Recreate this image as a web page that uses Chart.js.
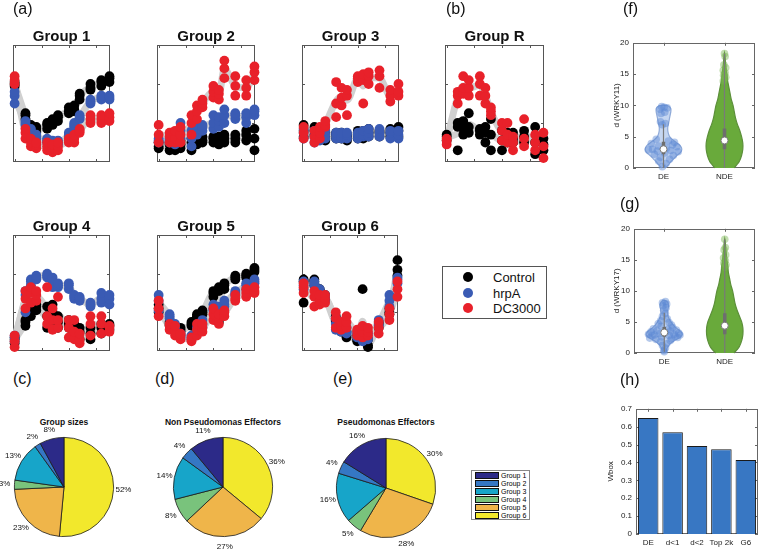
<!DOCTYPE html>
<html><head><meta charset="utf-8">
<script src="https://cdn.jsdelivr.net/npm/chart.js@4/dist/chart.umd.min.js"></script>
<style>
body{margin:0;background:#fff;font-family:'Liberation Sans',Arial,Helvetica,sans-serif;}
#root{position:relative;width:760px;height:549px;overflow:hidden;background:#fff;}
canvas{position:absolute;display:block;}
.lbl{position:absolute;font-size:16px;line-height:16px;color:#111;white-space:nowrap;}
.ttl{position:absolute;font-weight:bold;font-size:15px;line-height:15px;transform:translate(-50%,-50%);white-space:nowrap;color:#111;}
.ptl{position:absolute;font-weight:bold;font-size:8.5px;line-height:9px;transform:translate(-50%,-50%);white-space:nowrap;color:#111;}
.leg{position:absolute;border:1px solid #555;background:#fff;}
.leg .row{position:absolute;font-size:13px;line-height:13px;color:#111;white-space:nowrap;}
.leg .dot{position:absolute;width:10px;height:10px;border-radius:50%;}
.pleg{position:absolute;border:1px solid #888;background:#fff;}
.pleg .row{position:absolute;font-size:7px;line-height:7px;color:#000;white-space:nowrap;}
.pleg .sw{position:absolute;width:22px;height:5px;border:1px solid #111;}
</style></head>
<body><div id="root"></div>
<script>
// ---------------- DATA ----------------
const TIMES = [0,2,3,4,6,7,8,10,11,12,14,16,17.5];
const SERIES_NAMES = ['Control','hrpA','DC3000'];
const SERIES_COLORS = ['#000000','#3a5bb4','#e8212a'];

const G1_CTRL = [[1.95,2.0,2.05],[1.1,1.2,1.25],[0.8,0.9,0.95],[0.75,0.85,0.9],[0.85,0.95,1.0],[0.95,1.05,1.1],[1.05,1.15,1.2],[1.25,1.3,1.4],[1.3,1.35,1.45],[1.6,1.7,1.75],[1.85,1.9,2.0],[1.95,2.05,2.1],[2.05,2.15,2.2]];
const G1_HRPA = [[1.5,1.7,1.8],[0.95,1.0,1.05],[0.75,0.8,0.85],[0.6,0.65,0.7],[0.5,0.55,0.6],[0.45,0.5,0.55],[0.45,0.5,0.55],[0.65,0.7,0.75],[0.9,0.95,1.0],[1.1,1.15,1.2],[1.5,1.55,1.6],[1.6,1.65,1.7],[1.6,1.65,1.7]];
const G1_DC   = [[2.0,2.1,2.2],[0.6,0.75,0.85],[0.4,0.5,0.6],[0.35,0.45,0.5],[0.3,0.4,0.5],[0.25,0.35,0.45],[0.3,0.4,0.5],[0.5,0.55,0.6],[0.5,0.6,0.7],[0.75,0.8,0.85],[1.0,1.1,1.2],[1.0,1.1,1.2],[1.05,1.15,1.25]];

const G2_CTRL = [[0.35,0.4,0.5],[0.3,0.45,0.5],[0.3,0.4,0.5],[0.35,0.45,0.55],[0.3,0.5,0.6],[0.45,0.55,0.6],[0.5,0.55,0.65],[0.5,0.6,0.65],[0.45,0.55,0.65],[0.5,0.6,0.7],[0.5,0.6,0.7],[0.55,0.7,0.8],[0.3,0.6,0.85]];
const G2_HRPA = [[0.5,0.55,0.6],[0.5,0.55,0.6],[0.45,0.55,0.65],[0.6,0.8,1.0],[0.4,0.6,0.8],[0.7,0.85,0.95],[0.8,0.9,0.95],[0.85,1.0,1.2],[0.9,1.05,1.15],[1.0,1.2,1.35],[1.1,1.2,1.25],[1.0,1.15,1.25],[1.2,1.3,1.35]];
const G2_DC   = [[0.5,0.7,0.95],[0.5,0.65,0.75],[0.5,0.6,0.8],[0.5,0.7,0.9],[0.7,1.0,1.2],[1.1,1.3,1.45],[1.4,1.5,1.6],[1.65,1.8,1.95],[1.6,1.75,1.85],[2.15,2.4,2.6],[1.7,1.95,2.2],[1.7,1.9,2.1],[2.1,2.3,2.45]];

const G3_CTRL = [[0.65,0.8,0.95],[0.7,0.8,0.9],[0.6,0.75,0.85],[0.55,0.65,0.75],[0.6,0.7,0.75],[0.6,0.65,0.75],[0.55,0.65,0.7],[0.6,0.7,0.8],[0.6,0.7,0.8],[0.65,0.75,0.85],[0.65,0.75,0.8],[0.65,0.75,0.85],[0.65,0.8,0.9]];
const G3_HRPA = [[0.6,0.75,0.85],[0.5,0.65,0.8],[0.55,0.7,0.8],[0.6,0.7,0.8],[0.6,0.7,0.75],[0.6,0.65,0.75],[0.6,0.7,0.75],[0.6,0.7,0.75],[0.65,0.7,0.8],[0.65,0.75,0.85],[0.65,0.75,0.85],[0.6,0.75,0.8],[0.6,0.7,0.8]];
const G3_DC   = [[0.6,0.75,0.9],[0.5,0.65,0.8],[0.6,0.75,0.9],[0.9,0.95,1.05],[1.15,1.5,2.05],[1.45,1.65,1.9],[1.2,1.7,1.85],[2.05,2.15,2.2],[1.5,2.1,2.25],[2.0,2.2,2.3],[1.9,2.2,2.35],[1.55,1.7,1.85],[1.7,1.8,2.0]];

const GR_CTRL = [[0.55,0.65,0.7],[0.3,0.9,1.0],[0.7,0.85,1.05],[0.75,0.9,1.25],[0.7,0.8,0.85],[0.5,0.75,0.9],[0.3,0.7,1.1],[0.3,0.55,0.8],[0.5,0.65,0.75],[0.5,0.6,0.75],[0.5,0.65,0.8],[0.2,0.5,0.9],[0.3,0.45,0.6]];
const GR_DC   = [[0.45,0.55,0.6],[1.5,1.7,1.8],[1.75,1.9,2.2],[1.7,1.9,2.1],[1.7,2.0,2.2],[1.5,1.7,1.9],[1.2,1.3,1.4],[0.55,0.8,1.0],[0.5,0.7,1.0],[0.3,0.5,0.65],[0.4,0.6,1.1],[0.3,0.5,0.7],[0.1,0.4,0.75]];

const G4_CTRL = [[0.2,0.3,0.35],[0.65,0.75,0.8],[0.9,1.0,1.1],[1.05,1.15,1.2],[0.6,0.9,1.15],[0.8,1.0,1.2],[0.6,0.75,0.9],[0.6,0.7,0.8],[0.55,0.65,0.7],[0.3,0.5,0.6],[0.3,0.45,0.6],[0.45,0.6,0.7],[0.55,0.65,0.7]];
const G4_HRPA = [[0.25,0.35,0.4],[1.0,1.45,1.55],[1.7,1.8,1.85],[1.85,1.9,1.95],[1.9,1.95,2.0],[1.65,1.8,1.9],[1.65,1.7,1.75],[1.6,1.7,1.75],[1.35,1.4,1.45],[1.3,1.35,1.4],[1.15,1.2,1.25],[1.25,1.35,1.5],[1.2,1.35,1.45]];
const G4_DC   = [[0.1,0.25,0.4],[1.1,1.35,1.55],[1.25,1.5,1.65],[1.3,1.45,1.55],[0.7,0.9,1.65],[0.55,0.8,1.1],[0.6,0.8,1.4],[0.35,0.6,0.8],[0.3,0.5,0.8],[0.2,0.3,0.45],[0.4,0.7,0.9],[0.45,0.7,0.9],[0.5,0.6,0.65]];

const G5_CTRL = [[1.0,1.1,1.2],[0.65,0.7,0.75],[0.55,0.6,0.65],[0.5,0.55,0.6],[0.65,0.7,0.75],[0.85,0.9,0.95],[0.95,1.0,1.05],[1.4,1.5,1.55],[0.75,1.55,1.65],[1.6,1.7,1.75],[1.85,1.9,1.95],[1.9,1.95,2.0],[2.05,2.1,2.15]];
const G5_HRPA = [[1.05,1.3,1.45],[0.85,0.9,0.95],[0.5,0.6,0.7],[0.35,0.4,0.45],[0.3,0.35,0.4],[0.45,0.5,0.6],[0.6,0.7,0.8],[1.05,1.1,1.2],[1.0,1.1,1.15],[1.15,1.2,1.3],[1.45,1.5,1.55],[1.6,1.7,1.75],[1.75,1.8,1.85]];
const G5_DC   = [[0.9,1.1,1.3],[0.55,0.65,0.7],[0.4,0.5,0.65],[0.3,0.4,0.45],[0.25,0.3,0.35],[0.4,0.55,0.7],[0.5,0.6,0.7],[0.8,0.95,1.1],[0.7,0.85,0.95],[0.9,1.0,1.05],[1.3,1.35,1.45],[1.4,1.5,1.6],[1.5,1.55,1.65]];

const G6_CTRL = [[1.25,1.8,1.85],[1.7,1.8,1.85],[1.5,1.55,1.6],[1.35,1.4,1.45],[0.75,0.8,0.9],[0.5,0.55,0.6],[0.35,0.4,0.5],[0.25,0.3,0.4],[0.3,0.4,1.6],[0.1,0.15,0.3],[0.6,0.7,0.75],[0.95,1.0,1.1],[1.95,2.1,2.35]];
const G6_HRPA = [[1.6,1.7,1.8],[1.7,1.75,1.8],[1.45,1.5,1.6],[1.3,1.4,1.45],[0.55,0.7,0.85],[0.5,0.6,0.7],[0.45,0.5,0.6],[0.35,0.45,0.5],[0.25,0.3,0.4],[0.3,0.35,0.45],[0.65,0.7,0.8],[1.15,1.3,1.45],[1.75,1.85,1.9]];
const G6_DC   = [[1.5,1.65,1.75],[1.15,1.4,1.55],[1.2,1.3,1.45],[1.25,1.35,1.45],[0.6,0.85,1.0],[0.55,0.65,0.75],[0.6,0.75,0.9],[0.4,0.5,0.55],[0.35,0.5,0.65],[0.4,0.5,0.6],[0.45,0.6,0.75],[0.8,0.95,1.1],[1.4,1.6,1.8]];

const GROUP_TITLES = ['Group 1','Group 2','Group 3','Group R','Group 4','Group 5','Group 6'];
const X_TICKS = [0,5,10,15];
const Y_TICKS = [1,2];

// pies
const PIE_GROUPS = ['Group 1','Group 2','Group 3','Group 4','Group 5','Group 6'];
const PIE_COLORS = ['#2c2a88','#3577c4','#17a5c9','#79c37c','#efb54a','#f2e82c'];
const PCT_SIZES = [8,2,13,3,23,52];
const PCT_NONPS = [11,4,14,8,27,36];
const PCT_PS    = [16,4,16,5,28,30];
const PIE_TITLES = ['Group sizes','Non Pseudomonas Effectors','Pseudomonas Effectors'];

// violins: [y, half-width]
const VIOLIN_CATS = ['DE','NDE'];
const F_DE_PROFILE  = [[0,0.03],[0.5,0.08],[1,0.12],[1.5,0.17],[2,0.22],[2.5,0.28],[3,0.3],[3.5,0.28],[4,0.22],[4.5,0.15],[5,0.1],[5.5,0.08],[6,0.07],[6.5,0.07],[7,0.08],[7.5,0.09],[8,0.1],[8.5,0.11],[9,0.12],[9.5,0.12],[9.9,0.08],[10.05,0]];
const F_NDE_PROFILE = [[0,0.16],[0.5,0.2],[1,0.24],[2,0.28],[3,0.3],[4,0.3],[5,0.28],[6,0.25],[7,0.21],[8,0.18],[9,0.16],[10,0.14],[11,0.11],[12,0.09],[13,0.07],[14,0.05],[15,0.04],[16,0.025],[17,0.015],[18,0.008],[18.4,0]];
const G_DE_PROFILE  = [[0,0.03],[0.5,0.04],[1,0.06],[1.5,0.1],[2,0.17],[2.5,0.26],[3,0.3],[3.5,0.27],[4,0.2],[4.5,0.15],[5,0.11],[5.5,0.08],[6,0.06],[6.5,0.055],[7,0.06],[7.5,0.07],[8,0.065],[8.4,0.03],[8.5,0]];
const G_NDE_PROFILE = [[0,0.15],[0.5,0.2],[1,0.24],[2,0.28],[3,0.3],[4,0.3],[5,0.28],[6,0.24],[7,0.2],[8,0.17],[9,0.15],[10,0.13],[11,0.1],[12,0.08],[13,0.06],[14,0.05],[15,0.035],[16,0.025],[17,0.015],[18,0.008],[18.4,0]];
const F_DE_PTS_Y  = [9.8,9.6,9.7,9.4,8.9,8.7,7.4,7.1,6.9,4.6,4.3,4.1,3.9,3.7,3.5,3.4,3.2,3.0,2.9,2.8,2.7,2.6,2.4,2.2,2.0,1.7,1.4,1.1,0.7,0.2];
const F_DE_PTS_DX = [-0.03,0.06,0.01,-0.06,0.02,-0.04,-0.05,0.03,-0.02,-0.12,0.08,0.18,-0.2,0.15,-0.08,0.22,0.05,-0.18,-0.25,0.12,-0.1,0.24,0.02,-0.15,0.16,-0.05,0.1,-0.08,0.04,-0.02];
const G_DE_PTS_Y  = [8.3,8.1,7.9,7.6,7.3,6.9,6.4,5.9,5.5,5.2,4.9,4.7,4.5,4.3,4.1,3.9,3.8,3.7,3.6,3.5,3.4,3.3,3.2,3.1,3.0,3.0,2.9,2.9,2.8,2.8,2.7,2.6,2.5,2.4,2.3,2.2,2.0,1.8,1.5,1.2,0.8,0.4,0.2];
const G_DE_PTS_DX = [0.02,-0.03,0.04,-0.02,0.03,-0.01,0.02,-0.03,0.05,-0.06,0.08,-0.1,0.12,-0.05,0.14,-0.18,0.06,0.2,-0.12,0.1,-0.22,0.02,0.24,-0.08,0.16,-0.26,0.26,-0.16,0.08,-0.2,0.18,-0.04,0.22,-0.24,0.12,-0.14,0.1,-0.06,0.04,-0.03,0.02,-0.01,0.0];
const F_NDE_PTS_Y  = [18.3,17.8,16.5,16.0,15.6,15.2,14.8,14.5,14.2,13.9];
const F_NDE_PTS_DX = [0,0.01,-0.01,0.02,-0.02,0.01,-0.015,0.02,0,-0.02];
const G_NDE_PTS_Y  = [18.3,17.0,16.6,15.8,15.3,14.9,14.5,14.2,13.8];
const G_NDE_PTS_DX = [0,0.01,-0.01,0.015,-0.02,0.01,-0.015,0.02,0];
// [whiskerLow, q1, median, q3, whiskerHigh]
const F_DE_STATS  = [0,2.2,3.0,4.2,7.0];
const F_NDE_STATS = [0,3.0,4.4,6.3,18.3];
const G_DE_STATS  = [0.2,2.6,3.3,4.2,6.5];
const G_NDE_STATS = [0,3.0,4.4,6.4,18.3];
const VIOLIN_TICKS = [0,5,10,15,20];

// bars
const BAR_LABELS = ['DE','d<1','d<2','Top 2k','G6'];
const BAR_VALUES = [0.648,0.569,0.492,0.474,0.414];
const BAR_TICKS = [0,0.1,0.2,0.3,0.4,0.5,0.6,0.7];

// ---------------- SETUP ----------------
const FONT = "'Liberation Sans', Arial, Helvetica, sans-serif";
Chart.defaults.font.family = FONT;
Chart.defaults.color = '#222';
Chart.defaults.animation = false;
Chart.defaults.plugins.legend.display = false;
Chart.defaults.plugins.tooltip.enabled = false;
const root = document.getElementById('root');

function el(cls, html, css){ const d=document.createElement('div'); d.className=cls; if(html!=null) d.textContent=html; Object.assign(d.style,css||{}); root.appendChild(d); return d; }
function canvas(l,t,w,h){ const c=document.createElement('canvas'); c.width=w; c.height=h; c.style.left=l+'px'; c.style.top=t+'px'; c.style.width=w+'px'; c.style.height=h+'px'; root.appendChild(c); return c; }

// MATLAB-like box with inward ticks
const matBox = {
  id:'matBox',
  beforeDatasetsDraw(chart, args, o){
    const {ctx, chartArea:a, scales} = chart;
    ctx.save();
    ctx.strokeStyle = o.color || '#555'; ctx.lineWidth = 1;
    ctx.strokeRect(Math.round(a.left)+0.5, Math.round(a.top)+0.5, Math.round(a.right-a.left)-1, Math.round(a.bottom-a.top)-1);
    const L = o.len || 3;
    ctx.beginPath();
    (o.xt||[]).forEach(v=>{ const p=Math.round(scales.x.getPixelForValue(v))+0.5;
      ctx.moveTo(p,a.bottom); ctx.lineTo(p,a.bottom-L); ctx.moveTo(p,a.top); ctx.lineTo(p,a.top+L); });
    (o.yt||[]).forEach(v=>{ const p=Math.round(scales.y.getPixelForValue(v))+0.5;
      ctx.moveTo(a.left,p); ctx.lineTo(a.left+L,p); ctx.moveTo(a.right,p); ctx.lineTo(a.right-L,p); });
    ctx.stroke(); ctx.restore();
  }
};

// ---------------- TIME COURSE PANELS ----------------
const mean = a => a.reduce((s,v)=>s+v,0)/a.length;
function timeChart(box, seriesList){
  const P=6;
  const c = canvas(box[0]-P, box[1]-P, box[2]-box[0]+2*P, box[3]-box[1]+2*P);
  const ds = [];
  seriesList.forEach((s,k)=>{
    if(!s) return;
    ds.push({type:'line', data: TIMES.map((t,i)=>({x:t,y:mean(s[i])})), borderColor:'#d0d0d0', borderWidth:7,
      pointRadius:0, cubicInterpolationMode:'monotone', order:10, clip:false});
  });
  seriesList.forEach((s,k)=>{
    if(!s) return;
    const pts=[]; s.forEach((trip,i)=>trip.forEach(v=>pts.push({x:TIMES[i],y:v})));
    ds.push({type:'scatter', data:pts, backgroundColor:SERIES_COLORS[k], borderWidth:0, pointRadius:4.9, order:3-k, clip:false});
  });
  new Chart(c, {type:'scatter', data:{datasets:ds}, plugins:[matBox],
    options:{responsive:false, devicePixelRatio:1, layout:{padding:P},
      scales:{x:{type:'linear',min:-0.3,max:17.6,display:false}, y:{min:0,max:3,display:false}},
      plugins:{matBox:{xt:X_TICKS, yt:Y_TICKS, color:'#555'}}}});
}
const BOXES = [[13,45,110,162],[157,45,255,162],[302,45,399,162],[445,45,544,162],[13,235,110,351],[157,235,255,351],[302,235,398,351]];
const GROUP_DATA = [[G1_CTRL,G1_HRPA,G1_DC],[G2_CTRL,G2_HRPA,G2_DC],[G3_CTRL,G3_HRPA,G3_DC],[GR_CTRL,null,GR_DC],[G4_CTRL,G4_HRPA,G4_DC],[G5_CTRL,G5_HRPA,G5_DC],[G6_CTRL,G6_HRPA,G6_DC]];
GROUP_DATA.forEach((g,i)=>{
  timeChart(BOXES[i], g);
  const b=BOXES[i];
  el('ttl', GROUP_TITLES[i], {left:((b[0]+b[2])/2)+'px', top:(b[1]-10)+'px'});
});

// legend for series
const lg = el('leg', null, {left:'442px', top:'266px', width:'103px', height:'51px'});
SERIES_NAMES.forEach((n,i)=>{
  const d=document.createElement('div'); d.className='dot'; d.style.background=SERIES_COLORS[i]; d.style.left='20px'; d.style.top=(5+i*15.5)+'px'; lg.appendChild(d);
  const r=document.createElement('div'); r.className='row'; r.textContent=n; r.style.left='50px'; r.style.top=(4+i*15.5)+'px'; lg.appendChild(r);
});

// ---------------- PIES ----------------
const pieLabels = {
  id:'pieLabels',
  afterDatasetsDraw(chart){
    const ctx=chart.ctx, meta=chart.getDatasetMeta(0), vals=chart.data.datasets[0].data;
    ctx.save(); ctx.font='8px '+FONT; ctx.fillStyle='#111'; ctx.textAlign='center'; ctx.textBaseline='middle';
    meta.data.forEach((arc,i)=>{
      const p=arc.getProps(['x','y','startAngle','endAngle','outerRadius'],true);
      const m=(p.startAngle+p.endAngle)/2, r=p.outerRadius*1.2;
      ctx.fillText(vals[i]+'%', p.x+Math.cos(m)*r, p.y+Math.sin(m)*r);
    });
    ctx.restore();
  }
};
function pie(cx, cy, vals, title){
  const W=150,H=122, l=cx-70, t=cy-60;
  const c=canvas(l,t,W,H);
  const data=vals.slice().reverse(), cols=PIE_COLORS.slice().reverse(), labs=PIE_GROUPS.slice().reverse();
  new Chart(c,{type:'pie', data:{labels:labs, datasets:[{data, backgroundColor:cols, borderColor:'#1a1a1a', borderWidth:0.8}]},
    plugins:[pieLabels],
    options:{responsive:false, devicePixelRatio:1, layout:{padding:{left:20,right:30,top:10,bottom:12}}}});
  el('ptl', title, {left:cx+'px', top:'422px'});
}
pie(64,487,PCT_SIZES,PIE_TITLES[0]);
pie(223,487,PCT_NONPS,PIE_TITLES[1]);
pie(386,488,PCT_PS,PIE_TITLES[2]);

const pl = el('pleg', null, {left:'471px', top:'470px', width:'57px', height:'48px'});
PIE_GROUPS.forEach((n,i)=>{
  const s=document.createElement('div'); s.className='sw'; s.style.background=PIE_COLORS[i]; s.style.left='3px'; s.style.top=(1+i*8)+'px'; pl.appendChild(s);
  const r=document.createElement('div'); r.className='row'; r.textContent=n; r.style.left='29px'; r.style.top=(1+i*8)+'px'; pl.appendChild(r);
});

// ---------------- VIOLINS ----------------
function violinSets(pos, prof, fill, edge, ptsY, ptsDX, ptCol, stats){
  const right=prof.map(([y,w])=>({x:pos+w,y}));
  const left=prof.slice().reverse().map(([y,w])=>({x:pos-w,y}));
  return [
    {type:'line', data:right.concat(left), fill:'shape', backgroundColor:fill, borderColor:edge, borderWidth:1.2, pointRadius:0, tension:0.3, order:10, clip:false},
    {type:'scatter', data:ptsY.map((y,i)=>({x:pos+ptsDX[i],y})), backgroundColor:ptCol, borderWidth:0, pointRadius:3.8, order:8, clip:false},
    {type:'line', data:[{x:pos,y:stats[0]},{x:pos,y:stats[4]}], borderColor:'#7a7a7a', borderWidth:1.2, pointRadius:0, order:5},
    {type:'line', data:[{x:pos,y:stats[1]},{x:pos,y:stats[3]}], borderColor:'#6e6e6e', borderWidth:3.5, pointRadius:0, order:4},
    {type:'scatter', data:[{x:pos,y:stats[2]}], backgroundColor:'#ffffff', borderColor:'#7a7a7a', borderWidth:1, pointRadius:3.5, order:1, clip:false}
  ];
}
function violinChart(l,t,w,h,padTop,yW,xH,yTitle,de,nde){
  const c=canvas(l,t,w,h);
  const ds=[...violinSets(1,de.prof,'rgba(150,180,230,0.55)','#8ea9d8',de.y,de.dx,'rgba(90,135,210,0.45)',de.stats),
            ...violinSets(2,nde.prof,'#69aa3b','#5c8f3a',nde.y,nde.dx,'rgba(120,180,80,0.45)',nde.stats)];
  new Chart(c,{type:'scatter', data:{datasets:ds}, plugins:[matBox],
    options:{responsive:false, devicePixelRatio:1, layout:{padding:{top:padTop,right:1,left:0,bottom:0}},
      scales:{
        x:{type:'linear',min:0.5,max:2.5, grid:{display:false,drawTicks:false}, border:{display:false},
           afterBuildTicks:s=>{s.ticks=[{value:1},{value:2}];}, afterFit:s=>{s.height=xH;},
           ticks:{font:{size:8}, padding:4, callback:v=>VIOLIN_CATS[v-1]||'', maxRotation:0}},
        y:{min:0,max:20, grid:{display:false,drawTicks:false}, border:{display:false},
           afterBuildTicks:s=>{s.ticks=VIOLIN_TICKS.map(v=>({value:v}));}, afterFit:s=>{s.width=yW;},
           ticks:{font:{size:8}, padding:4},
           title:{display:true, text:yTitle, font:{size:8}, padding:0}}},
      plugins:{matBox:{xt:[1,2], yt:VIOLIN_TICKS, color:'#666'}}}});
}
violinChart(612,34,148,148,8,21,14,'d (WRKY11)',
  {prof:F_DE_PROFILE,y:F_DE_PTS_Y,dx:F_DE_PTS_DX,stats:F_DE_STATS},
  {prof:F_NDE_PROFILE,y:F_NDE_PTS_Y,dx:F_NDE_PTS_DX,stats:F_NDE_STATS});
violinChart(612,220,148,148,8,22,15,'d (WRKY17)',
  {prof:G_DE_PROFILE,y:G_DE_PTS_Y,dx:G_DE_PTS_DX,stats:G_DE_STATS},
  {prof:G_NDE_PROFILE,y:G_NDE_PTS_Y,dx:G_NDE_PTS_DX,stats:G_NDE_STATS});

// ---------------- BARS ----------------
(function(){
  const c=canvas(606,400,154,149);
  new Chart(c,{type:'bar', data:{labels:BAR_LABELS, datasets:[{data:BAR_VALUES, backgroundColor:'#3877c3', borderColor:'#1a1a1a', borderWidth:1, barPercentage:0.84, categoryPercentage:1}]},
    plugins:[matBox],
    options:{responsive:false, devicePixelRatio:1, layout:{padding:{top:8,right:2,left:0,bottom:0}},
      scales:{
        x:{grid:{display:false,drawTicks:false}, border:{display:false}, afterFit:s=>{s.height=15;}, ticks:{font:{size:8}, padding:4, maxRotation:0, autoSkip:false}},
        y:{min:0,max:0.7, grid:{display:false,drawTicks:false}, border:{display:false}, afterFit:s=>{s.width=30;},
           afterBuildTicks:s=>{s.ticks=BAR_TICKS.map(v=>({value:v}));},
           ticks:{font:{size:8}, padding:4, callback:v=>String(Math.round(v*10)/10)},
           title:{display:true,text:'Wbox',font:{size:8},padding:0}}},
      plugins:{matBox:{xt:[0,1,2,3,4], yt:BAR_TICKS, color:'#666'}}}});
})();

// ---------------- PANEL LETTERS ----------------
[['(a)',13,1],['(b)',446,1],['(c)',13,371],['(d)',155,371],['(e)',333,371],['(f)',623,1],['(g)',620,196],['(h)',620,372]]
  .forEach(([t,x,y])=>el('lbl',t,{left:x+'px',top:y+'px'}));
</script>
</body></html>
